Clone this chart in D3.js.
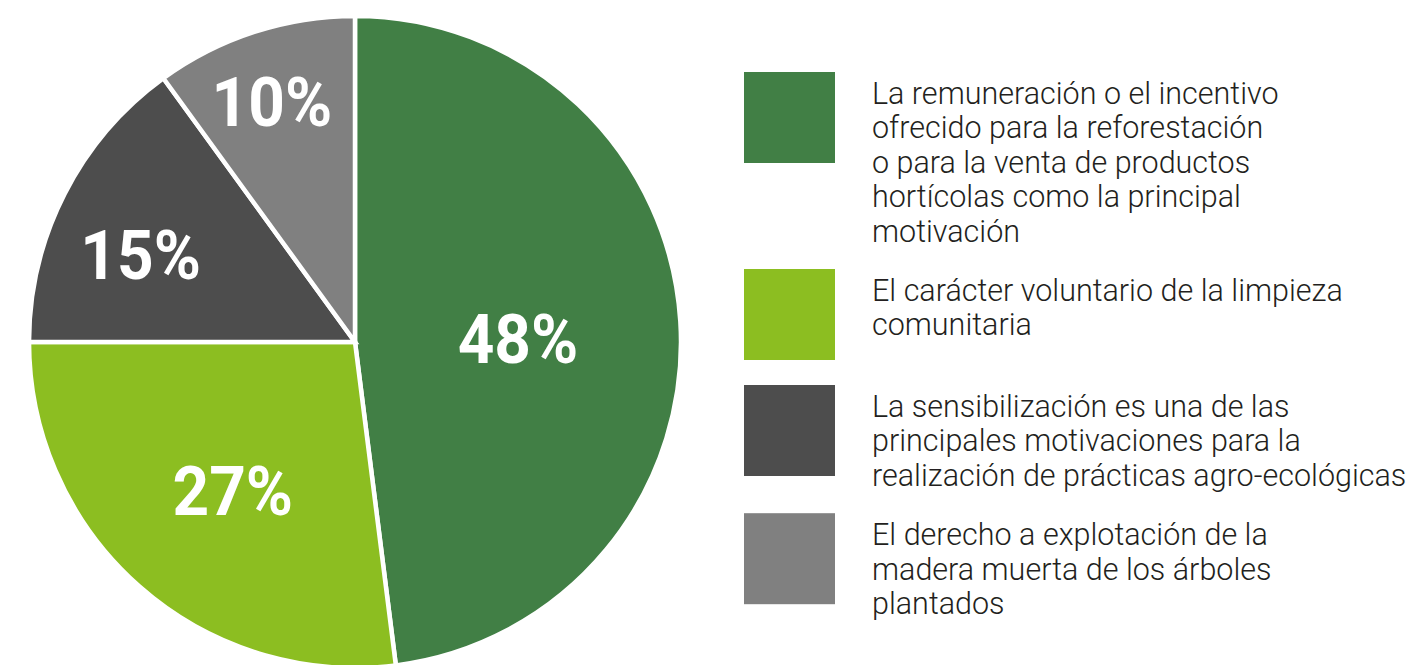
<!DOCTYPE html>
<html lang="es">
<head>
<meta charset="utf-8">
<script src="https://cdn.jsdelivr.net/npm/d3@7"></script>
<style>
    html, body { margin: 0; padding: 0; background: #ffffff; }
    svg { display: block; }
</style>
</head>
<body>
<div class="pie-chart"></div>
<script>
// chart values, in drawing order (clockwise from 12 o'clock)
const categories = [
    "La remuneración o el incentivo ofrecido para la reforestación o para la venta de productos hortícolas como la principal motivación",
    "El carácter voluntario de la limpieza comunitaria",
    "La sensibilización es una de las principales motivaciones para la realización de prácticas agro-ecológicas",
    "El derecho a explotación de la madera muerta de los árboles plantados"
];
const values = [48, 27, 15, 10];
const percentLabels = ["48%", "27%", "15%", "10%"];

// legend text, broken the way the original breaks it
const legendLines = [
    ["La remuneración o el incentivo", "ofrecido para la reforestación", "o para la venta de productos", "hortícolas como la principal", "motivación"],
    ["El carácter voluntario de la limpieza", "comunitaria"],
    ["La sensibilización es una de las", "principales motivaciones para la", "realización de prácticas agro-ecológicas"],
    ["El derecho a explotación de la", "madera muerta de los árboles", "plantados"]
];

const colors = ["#417f45", "#8cbe21", "#4d4d4d", "#808080"];

document.addEventListener('DOMContentLoaded', function(){

    let width = 1410;
    let height = 665;
    let cx = 355;
    let cy = 342;
    let radius = 326;

    let svg = d3
    .select('.pie-chart')
    .append('svg')
    .attr('width', width)
    .attr('height', height);

    // keep the data order, start at the top
    const pie = d3.pie()
    .sort(null)
    .value((d) => d);

    const arcs = pie(values);

    const arc = d3.arc()
    .innerRadius(0)
    .outerRadius(radius);

    const pieGroup = svg.append('g')
    .attr('transform', `translate(${cx}, ${cy})`);

    // slices with white separators
    pieGroup.selectAll('path')
    .data(arcs)
    .enter()
    .append('path')
    .attr('d', arc)
    .attr('fill', (d, i) => colors[i])
    .attr('stroke', '#ffffff')
    .attr('stroke-width', 4.5)
    .attr('stroke-linejoin', 'miter');

    // where the label sits inside its slice: [share of the sweep, share of radius]
    const labelSpot = [[0.514, 0.50], [0.48, 0.59], [0.41, 0.71], [0.47, 0.78]];

    const labelPos = (d, i) => {
        let a = d.startAngle + (d.endAngle - d.startAngle) * labelSpot[i][0];
        let r = radius * labelSpot[i][1];
        return [Math.sin(a) * r, -Math.cos(a) * r];
    };

    // percent labels, slightly narrowed
    pieGroup.selectAll('text')
    .data(arcs)
    .enter()
    .append('text')
    .attr('transform', (d, i) => {
        let p = labelPos(d, i);
        return `translate(${p[0]}, ${p[1]}) scale(0.94, 1)`;
    })
    .attr('text-anchor', 'middle')
    .attr('dy', '0.355em')
    .attr('font-family', 'Roboto, sans-serif')
    .attr('font-weight', 700)
    .attr('font-size', 68)
    .attr('fill', '#ffffff')
    .text((d, i) => percentLabels[i]);

    // legend, stacked top to bottom
    let squareSize = 91;
    let lineHeight = 34.4;
    let gap = 25;
    let legendX = 744;
    let textX = 872;
    let y = 72;

    const legend = svg.append('g').attr('class', 'legend');

    categories.forEach((name, i) => {
        let item = legend.append('g').attr('data-name', name);

        item.append('rect')
        .attr('x', legendX)
        .attr('y', y)
        .attr('width', squareSize)
        .attr('height', squareSize)
        .attr('fill', colors[i]);

        let label = item.append('text')
        .attr('transform', `translate(${textX}, ${y + 32})`)
        .attr('font-family', 'Roboto, sans-serif')
        .attr('font-weight', 300)
        .attr('font-size', 30.5)
        .attr('fill', '#231f20');

        label.selectAll('tspan')
        .data(legendLines[i])
        .enter()
        .append('tspan')
        .attr('x', 0)
        .attr('y', (d, j) => j * lineHeight)
        .text((d) => d);

        y += Math.max(squareSize, legendLines[i].length * lineHeight) + gap;
    });
});
</script>
</body>
</html>
